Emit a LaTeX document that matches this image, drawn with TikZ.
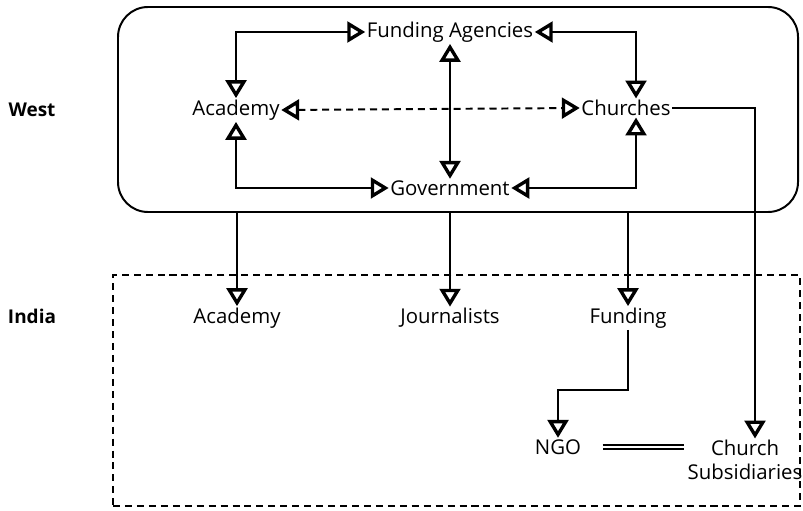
\documentclass[tikz,border=0pt]{standalone}
\usepackage{fontspec}
\setmainfont{Open Sans}
\usetikzlibrary{positioning, arrows.meta}

\begin{document}
\begin{tikzpicture}
            [lbl/.style={inner sep=1pt, font=\fontsize{14.5}{17}\selectfont},
              side/.style={inner sep=1pt, font=\fontsize{13.5}{16}\selectfont\bfseries},
              one/.style={line width=1.4pt,
                -{Triangle[open, scale=1.9, line width=2.4pt]}},
              two/.style={line width=1.4pt,
                {Triangle[open, scale=1.9, line width=2.4pt]}-{Triangle[open, scale=1.9, line width=2.4pt]}}]
            \useasboundingbox (0,0) rectangle (20.075,12.75);
            \node[draw, line width=1.4pt, rounded corners=0.75cm,
              minimum width=17cm, minimum height=5.125cm] (westbox) at (11.45,10.0125) {};
            \node[draw, line width=1.6pt, dash pattern=on 5pt off 3.5pt,
              minimum width=17.175cm, minimum height=5.775cm] (indiabox) at (11.4125,2.9875) {};
            \node[side] (west) at (0.8,10.0) {West};
            \node[side] (india) at (0.8,4.85) {India};
            \node[lbl] (fund) at (11.25,11.95) {Funding Agencies};
            \node[lbl] (acW) at (5.9,10.0) {Academy};
            \node[lbl] (chW) at (15.65,10.05) {Churches};
            \node[lbl] (gov) at (11.25,8.05) {Government};
            \node[lbl] (acI) at (5.925,4.8) {Academy};
            \node[lbl] (jour) at (11.25,4.8) {Journalists};
            \node[lbl] (fundI) at (15.7,4.8) {Funding};
            \node[lbl] (ngo) at (13.95,1.575) {NGO};
            \node[lbl, align=center] (chsub) at (18.625,1.25) {Church\\Subsidiaries};
            \draw[two] (fund.west) -| (acW.north);
            \draw[two] (fund.east) -| ([xshift=0.25cm]chW.north);
            \draw[two] (fund.south) -- (gov.north);
            \draw[two] (acW.south) |- (gov.west);
            \draw[two] ([xshift=0.25cm]chW.south) |- (gov.east);
            \draw[two, dash pattern=on 5pt off 3.5pt] (acW.east) -- (chW.west);
            \draw[one] (chW.east) -| ([xshift=0.25cm]chsub.north);
            \draw[one] (acI.north |- westbox.south) -- (acI.north);
            \draw[one] (jour.north |- westbox.south) -- (jour.north);
            \draw[one] (fundI.north |- westbox.south) -- (fundI.north);
            \draw[one] (fundI.south) -- ++(0,-1.5) -| (ngo.north);
            \draw[double, line width=1.1pt, double distance=1.6pt]
              ([xshift=0.5cm]ngo.east) -- ([xshift=-0.05cm]ngo.east -| chsub.west);
        \end{tikzpicture}
\end{document}
